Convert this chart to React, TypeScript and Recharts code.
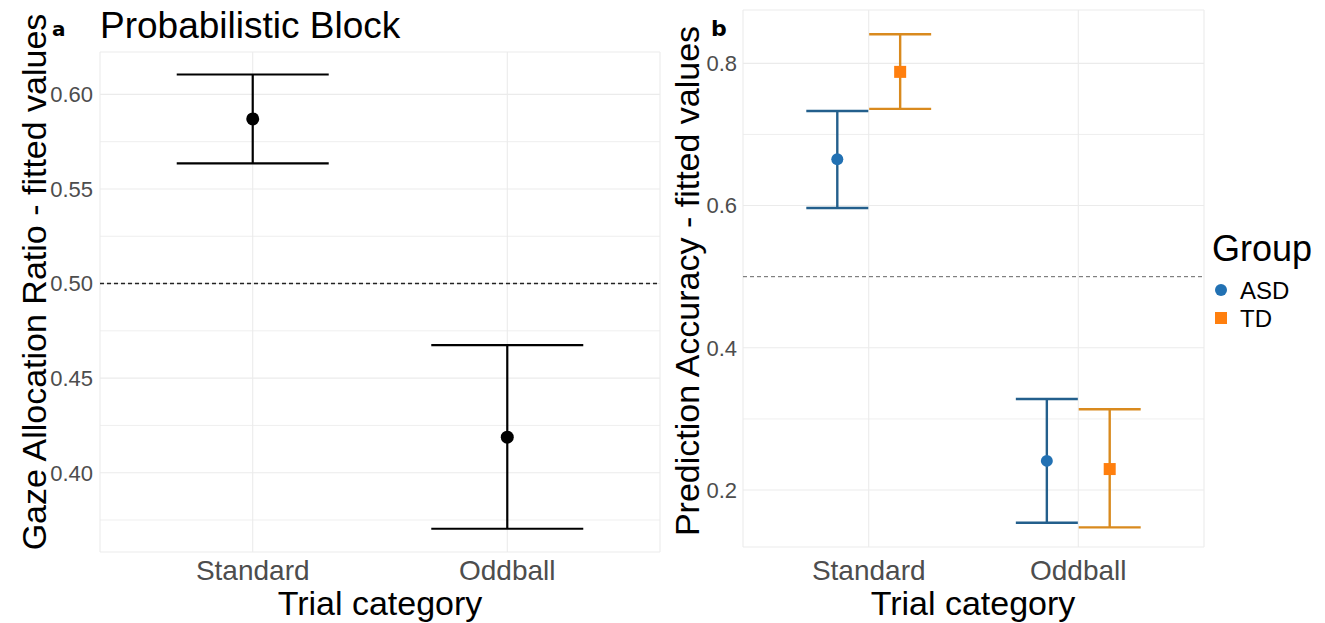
import React from 'react';
import { ComposedChart, Scatter, XAxis, YAxis, CartesianGrid, ErrorBar, ReferenceLine } from 'recharts';

const categories = ['Standard', 'Oddball'];

// Panel a
const gazeMean = [0.587, 0.4188];
const gazeLow = [0.5635, 0.3704];
const gazeHigh = [0.6105, 0.4675];
const gazeTicks = [0.4, 0.45, 0.5, 0.55, 0.6];
const gazeMinor = [0.375, 0.425, 0.475, 0.525, 0.575];

// Panel b
const groups = ['ASD', 'TD'];
const asdMean = [0.665, 0.241];
const asdLow = [0.5965, 0.154];
const asdHigh = [0.733, 0.328];
const tdMean = [0.788, 0.2295];
const tdLow = [0.736, 0.1475];
const tdHigh = [0.841, 0.3135];
const accTicks = [0.2, 0.4, 0.6, 0.8];
const accMinor = [0.3, 0.7];

const FONT = '"Liberation Sans", Arial, sans-serif';
const BOLD_FONT = '"DejaVu Sans", "Noto Sans", Roboto, sans-serif';
const GRID = '#ebebeb';

const build = (mean: number[], low: number[], high: number[], offset: number) =>
  categories.map((c, i) => ({
    x: i + offset,
    y: mean[i],
    err: [mean[i] - low[i], high[i] - mean[i]],
    cat: c,
  }));

const gazeData = build(gazeMean, gazeLow, gazeHigh, 0);
const asdData = build(asdMean, asdLow, asdHigh, -0.15);
const tdData = build(tdMean, tdLow, tdHigh, 0.15);

const yTickStyle = { fill: '#4d4d4d', fontSize: 22, fontFamily: FONT };
const xTickStyle = { fill: '#4d4d4d', fontSize: 28, fontFamily: FONT };

const circleShape = (color: string, r: number) => (p: any) => (
  <circle cx={p.cx} cy={p.cy} r={r} fill={color} />
);
const squareShape = (color: string, s: number) => (p: any) => (
  <rect x={p.cx - s / 2} y={p.cy - s / 2} width={s} height={s} fill={color} />
);

export default function App() {
  return (
    <div style={{ position: 'absolute', left: 0, top: 0, width: 1325, height: 623, background: '#fff', fontFamily: FONT }}>
      <div style={{ position: 'absolute', left: 0, top: 0 }}>
        <ComposedChart width={690} height={623} margin={{ top: 52, right: 30, bottom: 0, left: 0 }}>
          <CartesianGrid stroke={GRID} strokeWidth={1.1} />
          {gazeMinor.map((v) => (
            <ReferenceLine key={v} y={v} stroke={GRID} strokeWidth={0.8} />
          ))}
          <XAxis
            dataKey="x"
            type="number"
            domain={[-0.6, 1.6]}
            ticks={[0, 1]}
            tickFormatter={(v: number) => categories[v]}
            axisLine={false}
            tickLine={false}
            tickSize={0}
            tickMargin={8}
            height={71}
            tick={xTickStyle}
            allowDataOverflow
          />
          <YAxis
            dataKey="y"
            type="number"
            domain={[0.3581, 0.6224]}
            ticks={gazeTicks}
            tickFormatter={(v: number) => v.toFixed(2)}
            axisLine={false}
            tickLine={false}
            tickSize={0}
            tickMargin={7}
            width={100}
            tick={yTickStyle}
            allowDataOverflow
          />
          <ReferenceLine y={0.5} stroke="#222" strokeWidth={1.4} strokeDasharray="4 3" />
          <Scatter data={gazeData} fill="#000" isAnimationActive={false} shape={circleShape('#000', 6.5)}>
            <ErrorBar dataKey="err" direction="y" width={76} stroke="#000" strokeWidth={2.2} />
          </Scatter>
        </ComposedChart>
      </div>
      <div style={{ position: 'absolute', left: 690, top: 0 }}>
        <ComposedChart width={635} height={623} margin={{ top: 10, right: 121, bottom: 0, left: 0 }}>
          <CartesianGrid stroke={GRID} strokeWidth={1.1} />
          {accMinor.map((v) => (
            <ReferenceLine key={v} y={v} stroke={GRID} strokeWidth={0.8} />
          ))}
          <XAxis
            dataKey="x"
            type="number"
            domain={[-0.6, 1.6]}
            ticks={[0, 1]}
            tickFormatter={(v: number) => categories[v]}
            axisLine={false}
            tickLine={false}
            tickSize={0}
            tickMargin={13}
            height={76}
            tick={xTickStyle}
            allowDataOverflow
          />
          <YAxis
            dataKey="y"
            type="number"
            domain={[0.1199, 0.875]}
            ticks={accTicks}
            tickFormatter={(v: number) => v.toFixed(1)}
            axisLine={false}
            tickLine={false}
            tickSize={0}
            tickMargin={6}
            width={53}
            tick={yTickStyle}
            allowDataOverflow
          />
          <ReferenceLine y={0.5} stroke="#666" strokeWidth={1} strokeDasharray="4 3" />
          <Scatter name={groups[0]} data={asdData} fill="#2271b3" isAnimationActive={false} shape={circleShape('#2271b3', 6)}>
            <ErrorBar dataKey="err" direction="y" width={31} stroke="#235f8c" strokeWidth={2.4} />
          </Scatter>
          <Scatter name={groups[1]} data={tdData} fill="#ff7f0e" isAnimationActive={false} shape={squareShape('#ff7f0e', 12)}>
            <ErrorBar dataKey="err" direction="y" width={31} stroke="#d98a1e" strokeWidth={2.4} />
          </Scatter>
        </ComposedChart>
      </div>
      <svg width={1325} height={623} style={{ position: 'absolute', left: 0, top: 0, pointerEvents: 'none' }}>
        <g fontFamily={FONT}>
          <text x={52} y={36} fill="#000" style={{ fontFamily: BOLD_FONT, fontWeight: 700, fontSize: 20 }}>a</text>
          <text x={100} y={38} fontSize={37} fill="#000">Probabilistic Block</text>
          <text x={711} y={36} fill="#000" style={{ fontFamily: BOLD_FONT, fontWeight: 700, fontSize: 22 }}>b</text>
          <text x={380} y={615} fontSize={34} fill="#000" textAnchor="middle">Trial category</text>
          <text x={973} y={615} fontSize={34} fill="#000" textAnchor="middle">Trial category</text>
          <text transform="translate(46,282) rotate(-90)" fontSize={34} fill="#000" textAnchor="middle">Gaze Allocation Ratio - fitted values</text>
          <text transform="translate(699,281) rotate(-90)" fontSize={34} fill="#000" textAnchor="middle">Prediction Accuracy - fitted values</text>
          <text x={1212} y={261} fontSize={36} fill="#000">Group</text>
          <circle cx={1221} cy={290} r={6} fill="#2271b3" />
          <text x={1240} y={299} fontSize={24} fill="#000">{groups[0]}</text>
          <rect x={1215} y={312} width={12} height={12} fill="#ff7f0e" />
          <text x={1240} y={327} fontSize={24} fill="#000">{groups[1]}</text>
        </g>
      </svg>
    </div>
  );
}
